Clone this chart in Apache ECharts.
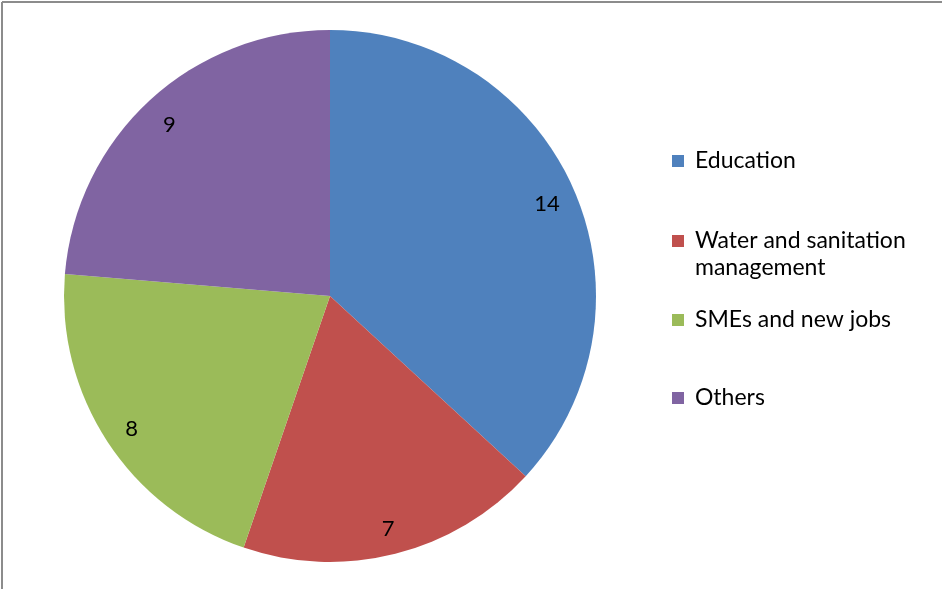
<!DOCTYPE html>
<html>
<head>
<meta charset="utf-8">
<script src="https://cdn.jsdelivr.net/npm/echarts@6/dist/echarts.min.js"></script>
<style>
html,body{margin:0;padding:0;background:#fff;}
#chart{width:942px;height:589px;}
</style>
</head>
<body>
<div id="chart"></div>
<script>
var categories = ['Education', 'Water and sanitation management', 'SMEs and new jobs', 'Others'];
var values = [14, 7, 8, 9];
var colors = ['#4F81BD', '#C0504D', '#9BBB59', '#8064A2'];

var FONT = 'Lato';
var FS = 23;
var data = categories.map(function (c, i) {
  return { name: c, value: values[i], itemStyle: { color: colors[i] } };
});
var labelData = categories.map(function (c, i) {
  return { name: c, value: values[i] };
});

var legendTops = [161, 241, 320, 398];
var legends = categories.map(function (c, i) {
  return {
    data: [c],
    left: 667,
    top: legendTops[i] - 17,
    orient: 'vertical',
    icon: 'rect',
    itemWidth: 12,
    itemHeight: 12,
    itemGap: 0,
    selectedMode: false,
    formatter: function (n) { return n === 'Water and sanitation management' ? 'Water and sanitation' : n; },
    textStyle: { fontFamily: FONT, fontSize: FS, color: '#000', padding: [0, 0, 0, 6], lineHeight: 24 }
  };
});

var chart = echarts.init(document.getElementById('chart'));
chart.setOption({
  animation: false,
  legend: legends,
  graphic: [
    { type: 'line', shape: { x1: 2, y1: 2, x2: 942, y2: 2 }, style: { stroke: '#8c8c8c', lineWidth: 2 } },
    { type: 'line', shape: { x1: 2, y1: 2, x2: 2, y2: 589 }, style: { stroke: '#8c8c8c', lineWidth: 2 } },
    { type: 'text', left: 695, top: 256, style: { text: 'management', font: FS + 'px ' + FONT, fill: '#000' } }
  ],
  series: [
    {
      type: 'pie',
      center: [330, 296],
      radius: [0, 266],
      startAngle: 90,
      clockwise: true,
      label: { show: false },
      labelLine: { show: false },
      silent: true,
      data: data
    },
    {
      type: 'pie',
      center: [330, 296],
      radius: [202, 266],
      startAngle: 90,
      clockwise: true,
      silent: true,
      itemStyle: { color: 'rgba(0,0,0,0)', borderWidth: 0 },
      label: { show: true, position: 'inside', formatter: '{c}', fontFamily: FONT, fontSize: 22, color: '#000', offset: [0, 3] },
      labelLine: { show: false },
      legendHoverLink: false,
      data: labelData
    }
  ]
});
</script>
</body>
</html>
